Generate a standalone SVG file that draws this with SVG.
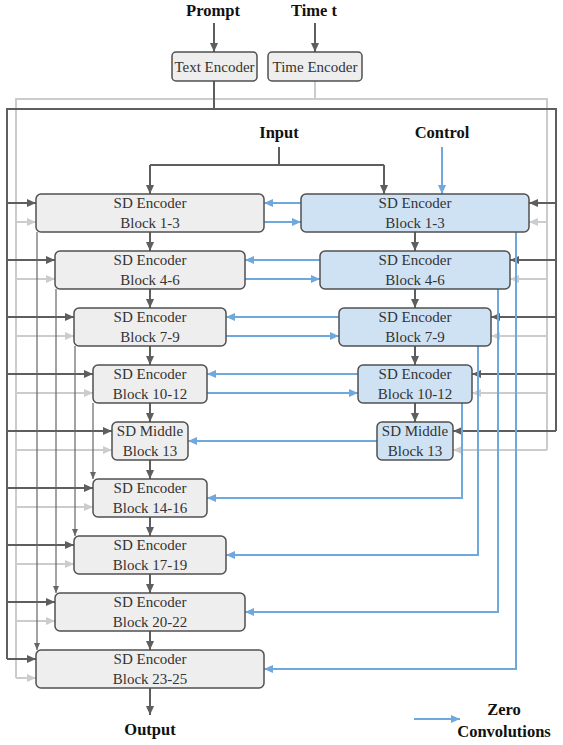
<svg xmlns="http://www.w3.org/2000/svg" width="563" height="745" viewBox="0 0 563 745">
<style>
.box{stroke:#505050;stroke-width:1.5}
.lb{fill:#eeeeee}
.rb{fill:#cfe2f3}
.t{font-family:"Liberation Serif","Times New Roman",serif;font-size:15px;fill:#333;text-anchor:middle}
.h{font-family:"Liberation Serif","Times New Roman",serif;font-size:16.5px;font-weight:bold;fill:#111;text-anchor:middle}
.d{stroke:#5e5e5e;stroke-width:2;fill:none}
.g{stroke:#cccccc;stroke-width:2;fill:none}
.b{stroke:#6fa8dc;stroke-width:2;fill:none}
.s{stroke:#666666;stroke-width:1.2;fill:none}
.ad{marker-end:url(#mD)}
.ag{marker-end:url(#mG)}
.ab{marker-end:url(#mB)}
.as{marker-end:url(#mS)}
</style>
<defs>
<marker id="mD" markerUnits="userSpaceOnUse" markerWidth="10" markerHeight="9" refX="9" refY="4" orient="auto"><path d="M0,0 L9,4 L0,8 z" fill="#5e5e5e"/></marker>
<marker id="mG" markerUnits="userSpaceOnUse" markerWidth="10" markerHeight="9" refX="9" refY="4" orient="auto"><path d="M0,0 L9,4 L0,8 z" fill="#cccccc"/></marker>
<marker id="mB" markerUnits="userSpaceOnUse" markerWidth="10" markerHeight="9" refX="9" refY="4" orient="auto"><path d="M0,0 L9,4 L0,8 z" fill="#6fa8dc"/></marker>
<marker id="mS" markerUnits="userSpaceOnUse" markerWidth="8" markerHeight="7" refX="7" refY="3" orient="auto"><path d="M0,0 L7,3 L0,6 z" fill="#666666"/></marker>
</defs>
<rect width="563" height="745" fill="#ffffff"/>

<g id="connectors">
<!-- gray time embedding frame -->
<path class="g" d="M315,81 V99"/>
<path class="g" d="M16,678 V99 H547 V450"/>
<path class="g ag" d="M16,222 H36"/>
<path class="g ag" d="M16,279 H55"/>
<path class="g ag" d="M16,336 H74"/>
<path class="g ag" d="M16,393 H93"/>
<path class="g ag" d="M16,450 H112"/>
<path class="g ag" d="M16,507 H93"/>
<path class="g ag" d="M16,564 H74"/>
<path class="g ag" d="M16,621 H55"/>
<path class="g ag" d="M16,678 H36"/>
<path class="g ag" d="M547,222 H529"/>
<path class="g ag" d="M547,279 H510"/>
<path class="g ag" d="M547,336 H491"/>
<path class="g ag" d="M547,393 H472"/>
<path class="g ag" d="M547,450 H453"/>
<!-- dark text embedding frame -->
<path class="d" d="M214,81 V109"/>
<path class="d" d="M7,659 V109 H556 V431"/>
<path class="d ad" d="M7,203 H36"/>
<path class="d ad" d="M7,260 H55"/>
<path class="d ad" d="M7,317 H74"/>
<path class="d ad" d="M7,374 H93"/>
<path class="d ad" d="M7,431 H112"/>
<path class="d ad" d="M7,488 H93"/>
<path class="d ad" d="M7,545 H74"/>
<path class="d ad" d="M7,602 H55"/>
<path class="d ad" d="M7,659 H36"/>
<path class="d ad" d="M556,203 H529"/>
<path class="d ad" d="M556,260 H510"/>
<path class="d ad" d="M556,317 H491"/>
<path class="d ad" d="M556,374 H472"/>
<path class="d ad" d="M556,431 H453"/>
<!-- inputs -->
<path class="d ad" d="M214,23 V52"/>
<path class="d ad" d="M315,23 V52"/>
<path class="d" d="M150,165 H384"/>
<path class="d" d="M279,147 V165"/>
<path class="d ad" d="M150,165 V194"/>
<path class="d ad" d="M384,165 V194"/>
<path class="b ab" d="M442,147 V194"/>
<!-- block chain left -->
<path class="d ad" d="M150,232 V251"/>
<path class="d ad" d="M150,289 V308"/>
<path class="d ad" d="M150,346 V365"/>
<path class="d ad" d="M150,403 V422"/>
<path class="d ad" d="M150,460 V479"/>
<path class="d ad" d="M150,517 V536"/>
<path class="d ad" d="M150,574 V593"/>
<path class="d ad" d="M150,631 V650"/>
<path class="d ad" d="M150,688 V715"/>
<!-- block chain right -->
<path class="d ad" d="M415,232 V251"/>
<path class="d ad" d="M415,289 V308"/>
<path class="d ad" d="M415,346 V365"/>
<path class="d ad" d="M415,403 V422"/>
<!-- skip connections -->
<path class="s as" d="M37,232 V650"/>
<path class="s as" d="M56,289 V593"/>
<path class="s as" d="M75,346 V536"/>
<path class="s as" d="M93,403 V479"/>
<!-- zero convolutions -->
<path class="b ab" d="M301,203 H264"/>
<path class="b ab" d="M264,222 H301"/>
<path class="b ab" d="M320,260 H245"/>
<path class="b ab" d="M245,279 H320"/>
<path class="b ab" d="M339,317 H226"/>
<path class="b ab" d="M226,336 H339"/>
<path class="b ab" d="M358,374 H207"/>
<path class="b ab" d="M207,393 H358"/>
<path class="b ab" d="M377,441 H188"/>
<path class="b ab" d="M462,403 V498 H207"/>
<path class="b ab" d="M478,346 V555 H226"/>
<path class="b ab" d="M498,289 V612 H245"/>
<path class="b ab" d="M516,232 V669 H264"/>
<!-- legend arrow -->
<path class="b ab" d="M414,719 H460"/>
</g>

<g id="labels">
<text class="h" x="213" y="16">Prompt</text>
<text class="h" x="314" y="16">Time t</text>
<text class="h" x="279" y="138">Input</text>
<text class="h" x="442" y="138">Control</text>
<text class="h" x="150" y="735">Output</text>
<text class="h" x="504" y="715">Zero</text>
<text class="h" x="504" y="737">Convolutions</text>
</g>

<g id="text-encoder"><rect class="box lb" x="172" y="52" width="85" height="29" rx="4"/><text class="t" x="214.5" y="72">Text Encoder</text></g>
<g id="time-encoder"><rect class="box lb" x="268" y="52" width="94" height="29" rx="4"/><text class="t" x="315" y="72">Time Encoder</text></g>

<g id="sd-enc-1-3"><rect class="box lb" x="36" y="194" width="228" height="38" rx="5"/><text class="t" x="150" y="208">SD Encoder</text><text class="t" x="150" y="228">Block 1-3</text></g>
<g id="sd-enc-4-6"><rect class="box lb" x="55" y="251" width="190" height="38" rx="5"/><text class="t" x="150" y="265">SD Encoder</text><text class="t" x="150" y="285">Block 4-6</text></g>
<g id="sd-enc-7-9"><rect class="box lb" x="74" y="308" width="152" height="38" rx="5"/><text class="t" x="150" y="322">SD Encoder</text><text class="t" x="150" y="342">Block 7-9</text></g>
<g id="sd-enc-10-12"><rect class="box lb" x="93" y="365" width="114" height="38" rx="5"/><text class="t" x="150" y="379">SD Encoder</text><text class="t" x="150" y="399">Block 10-12</text></g>
<g id="sd-mid-13"><rect class="box lb" x="112" y="422" width="76" height="38" rx="5"/><text class="t" x="150" y="436">SD Middle</text><text class="t" x="150" y="456">Block 13</text></g>
<g id="sd-dec-14-16"><rect class="box lb" x="93" y="479" width="114" height="38" rx="5"/><text class="t" x="150" y="493">SD Encoder</text><text class="t" x="150" y="513">Block 14-16</text></g>
<g id="sd-dec-17-19"><rect class="box lb" x="74" y="536" width="152" height="38" rx="5"/><text class="t" x="150" y="550">SD Encoder</text><text class="t" x="150" y="570">Block 17-19</text></g>
<g id="sd-dec-20-22"><rect class="box lb" x="55" y="593" width="190" height="38" rx="5"/><text class="t" x="150" y="607">SD Encoder</text><text class="t" x="150" y="627">Block 20-22</text></g>
<g id="sd-dec-23-25"><rect class="box lb" x="36" y="650" width="228" height="38" rx="5"/><text class="t" x="150" y="664">SD Encoder</text><text class="t" x="150" y="684">Block 23-25</text></g>

<g id="ctrl-enc-1-3"><rect class="box rb" x="301" y="194" width="228" height="38" rx="5"/><text class="t" x="415" y="208">SD Encoder</text><text class="t" x="415" y="228">Block 1-3</text></g>
<g id="ctrl-enc-4-6"><rect class="box rb" x="320" y="251" width="190" height="38" rx="5"/><text class="t" x="415" y="265">SD Encoder</text><text class="t" x="415" y="285">Block 4-6</text></g>
<g id="ctrl-enc-7-9"><rect class="box rb" x="339" y="308" width="152" height="38" rx="5"/><text class="t" x="415" y="322">SD Encoder</text><text class="t" x="415" y="342">Block 7-9</text></g>
<g id="ctrl-enc-10-12"><rect class="box rb" x="358" y="365" width="114" height="38" rx="5"/><text class="t" x="415" y="379">SD Encoder</text><text class="t" x="415" y="399">Block 10-12</text></g>
<g id="ctrl-mid-13"><rect class="box rb" x="377" y="422" width="76" height="38" rx="5"/><text class="t" x="415" y="436">SD Middle</text><text class="t" x="415" y="456">Block 13</text></g>
</svg>
